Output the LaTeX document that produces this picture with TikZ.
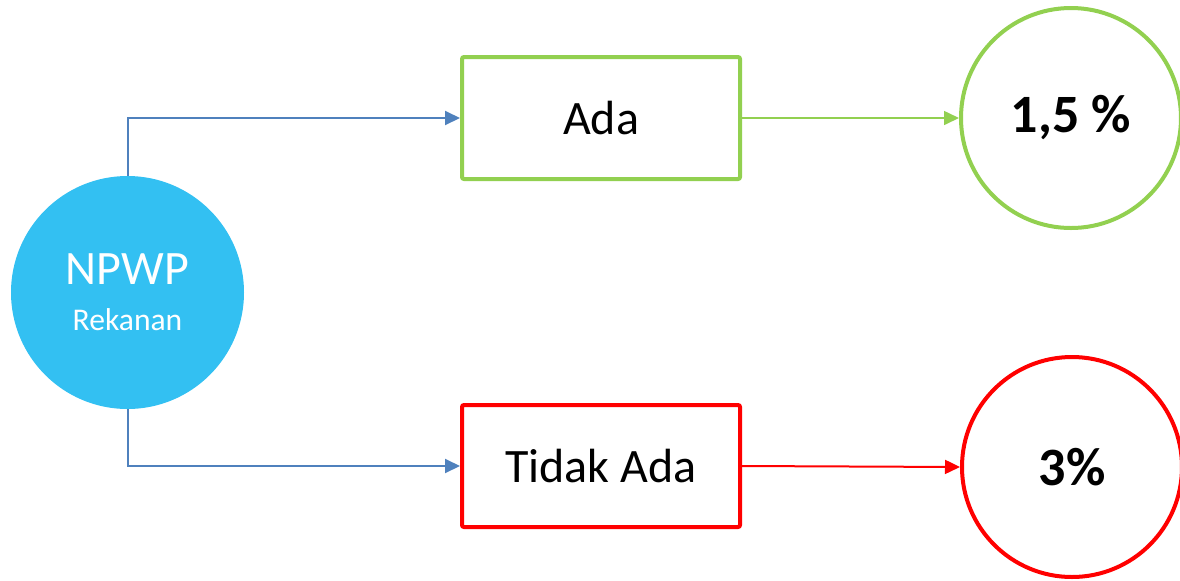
\documentclass[tikz,border=0pt]{standalone}
\usepackage{fontspec}
\setmainfont{Carlito}
\usetikzlibrary{arrows.meta}
\definecolor{npwpblue}{HTML}{33C0F2}
\definecolor{linkblue}{HTML}{4F81BD}
\definecolor{okgreen}{HTML}{92D050}
\definecolor{nored}{HTML}{FF0000}

\begin{document}
\begin{tikzpicture}[x=0.5pt,y=-0.5pt,
  choice/.style={draw,line width=2pt,rounded corners=1pt,minimum width=139pt,minimum height=61pt,inner sep=0pt,font=\fontsize{24}{28}\selectfont},
  rate/.style={circle,draw,line width=2pt,minimum size=110pt,inner sep=0pt,font=\bfseries\fontsize{27}{31}\selectfont},
  link/.style={line width=1pt,-{Triangle[length=7.5pt,width=7pt]}}]
    \useasboundingbox (0,0) rectangle (1180,580);
    \node[circle,fill=npwpblue,minimum size=116.5pt,inner sep=0pt,text=white,align=center] (npwp) at (127.5,292.5)
      {\fontsize{24}{24}\selectfont NPWP\\[11pt]\fontsize{15.8}{20}\selectfont Rekanan};
    \node[choice,okgreen,text=black] (ada) at (601,118) {Ada};
    \node[choice,nored,text=black] (tidak) at (601,466) {Tidak Ada};
    \node[rate,okgreen,text=black] (low) at (1071,118) {1,5 \%};
    \node[rate,nored,text=black] (high) at (1072,467) {3\%};
    \draw[link,linkblue] (npwp.north) |- (ada.west);
    \draw[link,linkblue] (npwp.south) |- (tidak.west);
    \draw[link,okgreen,line width=0.8pt] (ada.east) -- (low.west);
    \draw[link,nored] (tidak.east) -- (high.west);
\end{tikzpicture}
\end{document}
